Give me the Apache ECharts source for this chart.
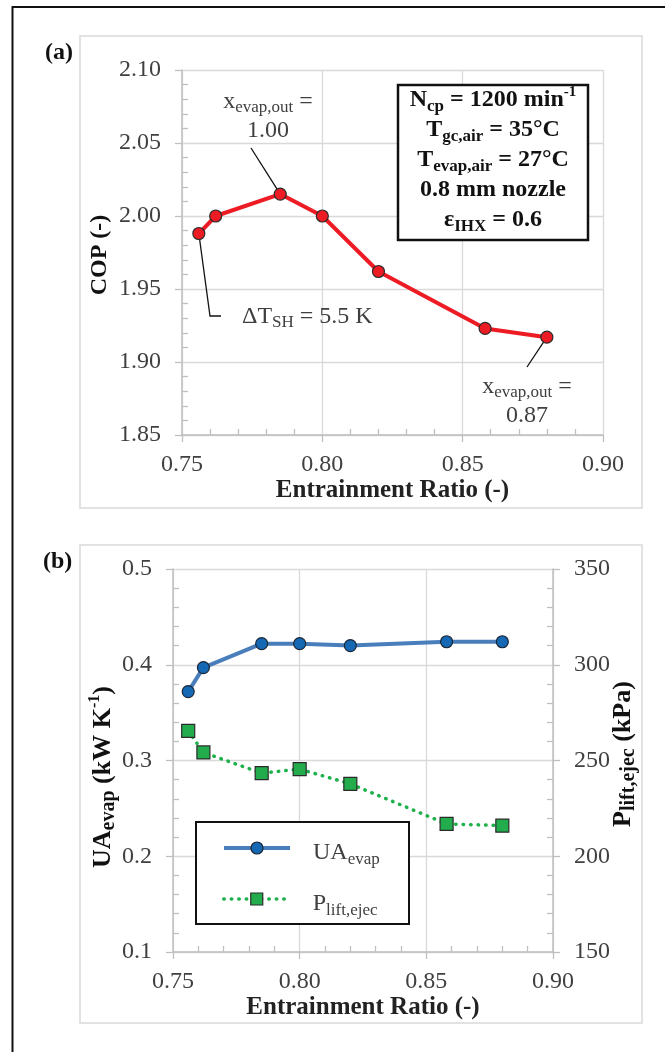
<!DOCTYPE html>
<html>
<head>
<meta charset="utf-8">
<script src="https://cdn.jsdelivr.net/npm/echarts@6/dist/echarts.min.js"></script>
<style>
  html, body { margin: 0; padding: 0; background: #fff; }
  #chart { width: 665px; height: 1052px; }
</style>
</head>
<body>
<div id="chart"></div>
<script>
// test points, shared by both panels
const entrainment = [0.756, 0.762, 0.785, 0.800, 0.820, 0.858, 0.880];
// (a) COP (-)
const cop = [1.988, 2.000, 2.015, 2.000, 1.962, 1.923, 1.917];
// (b) evaporator UA (kW/K) and ejector lift (kPa)
const uaEvap = [0.372, 0.397, 0.422, 0.422, 0.420, 0.424, 0.424];
const pLift = [265.5, 254.2, 243.4, 245.5, 237.8, 216.9, 216.0];

// axis ranges [min, max, step]
const ratioAxis = [0.75, 0.90, 0.05];
const copAxis = [1.85, 2.10, 0.05];
const uaAxis = [0.1, 0.5, 0.1];
const pAxis = [150, 350, 50];

const serif = 'Liberation Serif, Times New Roman, serif';
const axisGray = '#bfbfbf';
const gridGray = '#d9d9d9';
const txt = '#404040';

function mainAxis(grid, r, dec, pos, split) {
    return {
        type: 'value', gridIndex: grid, position: pos,
        min: r[0], max: r[1], interval: r[2],
        axisLine: { show: true, onZero: false, lineStyle: { color: axisGray, width: 1.5 } },
        axisTick: { show: true, inside: false, length: 7, lineStyle: { color: axisGray, width: 1.3 } },
        minorTick: { show: false },
        splitLine: { show: split, lineStyle: { color: gridGray, width: 1.3 } },
        axisLabel: {
            fontFamily: serif, fontSize: 24, color: txt, margin: pos === 'bottom' ? 18 : 21,
            formatter: v => v.toFixed(dec)
        }
    };
}
// second axis on the same side, only to draw the inside minor ticks
function minorAxis(grid, r, pos) {
    return {
        type: 'value', gridIndex: grid, position: pos,
        min: r[0], max: r[1], interval: r[2],
        axisLine: { show: false, onZero: false },
        axisTick: { show: true, inside: true, length: 6, lineStyle: { color: 'rgba(0,0,0,0)' } },
        minorTick: { show: true, splitNumber: 5, length: 6, lineStyle: { color: axisGray, width: 1.3 } },
        splitLine: { show: false },
        axisLabel: { show: false }
    };
}

const xName = {
    name: 'Entrainment Ratio (-)', nameLocation: 'middle', nameGap: 43,
    nameTextStyle: { fontFamily: serif, fontSize: 25, fontWeight: 'bold', color: '#222' }
};

const legendRich = {
    m: { fontFamily: serif, fontSize: 24, lineHeight: 40, verticalAlign: 'top', color: txt, padding: [13, 0, 0, 18] },
    s: { fontFamily: serif, fontSize: 17, lineHeight: 10, verticalAlign: 'bottom', color: txt }
};

const uaColor = '#4a7ebb';
const pColor = '#1db04b';

const option = {
    animation: false,
    grid: [
        { left: 182, top: 70, width: 421, height: 365 },
        { left: 173, top: 569, width: 380, height: 383 }
    ],
    xAxis: [
        Object.assign(mainAxis(0, ratioAxis, 2, 'bottom', true), xName),
        minorAxis(0, ratioAxis, 'bottom'),
        Object.assign(mainAxis(1, ratioAxis, 2, 'bottom', true), xName),
        minorAxis(1, ratioAxis, 'bottom')
    ],
    yAxis: [
        mainAxis(0, copAxis, 2, 'left', true),
        minorAxis(0, copAxis, 'left'),
        mainAxis(1, uaAxis, 1, 'left', true),
        mainAxis(1, pAxis, 0, 'right', false),
        minorAxis(1, uaAxis, 'left'),
        minorAxis(1, pAxis, 'right')
    ],
    legend: [
        {
            data: ['UAevap'], left: 222, top: 828, padding: 0, itemWidth: 66, itemHeight: 15,
            selectedMode: false, z: 6,
            lineStyle: { width: 4, color: uaColor },
            itemStyle: { borderWidth: 1.2, borderColor: '#1c2633' },
            formatter: () => '{m|UA}{s|evap}', textStyle: { rich: legendRich }
        },
        {
            data: ['Plift'], left: 222, top: 879, padding: 0, itemWidth: 66, itemHeight: 15,
            selectedMode: false, z: 6,
            lineStyle: { width: 3.5, color: pColor, type: [0.5, 7], cap: 'round' },
            itemStyle: { borderWidth: 1.2, borderColor: '#2b2b2b' },
            formatter: () => '{m|P}{s|lift,ejec}', textStyle: { rich: legendRich }
        }
    ],
    series: [
        {
            type: 'line', name: 'COP', xAxisIndex: 0, yAxisIndex: 0,
            data: entrainment.map((x, i) => [x, cop[i]]),
            symbol: 'circle', symbolSize: 12, z: 3,
            lineStyle: { color: '#ed1c24', width: 4 },
            itemStyle: { color: '#ed1c24', borderColor: '#2b2b2b', borderWidth: 1.2 },
            emphasis: { disabled: true }
        },
        {
            type: 'line', name: 'UAevap', xAxisIndex: 2, yAxisIndex: 2,
            data: entrainment.map((x, i) => [x, uaEvap[i]]),
            symbol: 'circle', symbolSize: 12, z: 3,
            lineStyle: { color: uaColor, width: 4 },
            itemStyle: { color: '#1468b4', borderColor: '#1c2633', borderWidth: 1.2 },
            emphasis: { disabled: true }
        },
        {
            type: 'line', name: 'Plift', xAxisIndex: 2, yAxisIndex: 3,
            data: entrainment.map((x, i) => [x, pLift[i]]),
            symbol: 'rect', symbolSize: 13, z: 3,
            lineStyle: { color: pColor, width: 3.5, type: [0.5, 7], cap: 'round' },
            itemStyle: { color: '#22ac4c', borderColor: '#2b2b2b', borderWidth: 1.2 },
            emphasis: { disabled: true }
        }
    ]
};

const chart = echarts.init(document.getElementById('chart'));
chart.setOption(option);

// pixel position of a data point, for the annotation leaders
const copPx = i => chart.convertToPixel({ seriesIndex: 0 }, [entrainment[i], cop[i]]);

const annRich = {
    m: { fontFamily: serif, fontSize: 24, lineHeight: 29, fill: txt },
    s: { fontFamily: serif, fontSize: 17, lineHeight: 12, verticalAlign: 'bottom', fill: txt }
};
const boldRich = {
    b: { fontFamily: serif, fontSize: 24, fontWeight: 'bold', lineHeight: 30, fill: '#111' },
    s: { fontFamily: serif, fontSize: 17, fontWeight: 'bold', lineHeight: 12, verticalAlign: 'bottom', fill: '#111' },
    u: { fontFamily: serif, fontSize: 15, fontWeight: 'bold', lineHeight: 20, verticalAlign: 'top', fill: '#111' }
};
// the (b) axis titles are set a little larger
const titleRich = {
    b: { fontFamily: serif, fontSize: 26, fontWeight: 'bold', lineHeight: 32, fill: '#111' },
    s: { fontFamily: serif, fontSize: 20, fontWeight: 'bold', lineHeight: 12, verticalAlign: 'bottom', fill: '#111' },
    u: { fontFamily: serif, fontSize: 16, fontWeight: 'bold', lineHeight: 20, verticalAlign: 'top', fill: '#111' }
};

const p0 = copPx(0), p2 = copPx(2), p6 = copPx(6);
const leader = { stroke: '#111', lineWidth: 1.3, fill: null };

chart.setOption({
    graphic: [
        // page frame and chart areas
        { type: 'polyline', shape: { points: [[12.5, 1052], [12.5, 7], [665, 7]] }, style: { stroke: '#111', lineWidth: 2, fill: null } },
        { type: 'rect', shape: { x: 80, y: 36, width: 562, height: 472 }, style: { stroke: gridGray, lineWidth: 1.5, fill: null } },
        { type: 'rect', shape: { x: 80, y: 545, width: 562, height: 478 }, style: { stroke: gridGray, lineWidth: 1.5, fill: null } },
        { type: 'text', x: 45, y: 53, style: { text: '(a)', fontFamily: serif, fontSize: 24, fontWeight: 'bold', fill: '#111', verticalAlign: 'middle' } },
        { type: 'text', x: 43, y: 562, style: { text: '(b)', fontFamily: serif, fontSize: 24, fontWeight: 'bold', fill: '#111', verticalAlign: 'middle' } },

        // y axis titles
        { type: 'text', x: 100, y: 255, rotation: Math.PI / 2,
          style: { text: '{b|COP (-)}', rich: boldRich, align: 'center', verticalAlign: 'middle' } },
        { type: 'text', x: 103, y: 777, rotation: Math.PI / 2,
          style: { text: '{b|UA}{s|evap}{b| (kW K}{u|-1}{b|)}', rich: titleRich, align: 'center', verticalAlign: 'middle' } },
        { type: 'text', x: 623, y: 754, rotation: Math.PI / 2,
          style: { text: '{b|P}{s|lift,ejec}{b| (kPa)}', rich: titleRich, align: 'center', verticalAlign: 'middle' } },

        // operating conditions box
        { type: 'rect', z: 1, shape: { x: 398, y: 85, width: 190, height: 155 }, style: { stroke: '#111', lineWidth: 2.5, fill: '#fff' } },
        { type: 'text', z: 2, x: 493, y: 85, style: {
            text: [
                '{b|N}{s|cp}{b| = 1200 min}{u|-1}',
                '{b|T}{s|gc,air}{b| = 35°C}',
                '{b|T}{s|evap,air}{b| = 27°C}',
                '{b|0.8 mm nozzle}',
                '{b|ε}{s|IHX}{b| = 0.6}'
            ].join('\n'),
            rich: boldRich, align: 'center', verticalAlign: 'top' } },

        // point annotations
        { type: 'polyline', z: 1, shape: { points: [[251, 148], p2] }, style: leader },
        { type: 'text', x: 268, y: 87, style: { text: '{m|x}{s|evap,out}{m| =}\n{m|1.00}', rich: annRich, align: 'center', verticalAlign: 'top' } },
        { type: 'polyline', z: 1, shape: { points: [p0, [210, 316], [221, 316]] }, style: leader },
        { type: 'text', x: 242, y: 317, style: { text: '{m|ΔT}{s|SH}{m| = 5.5 K}', rich: annRich, align: 'left', verticalAlign: 'middle' } },
        { type: 'polyline', z: 1, shape: { points: [p6, [527, 367]] }, style: leader },
        { type: 'text', x: 527, y: 372, style: { text: '{m|x}{s|evap,out}{m| =}\n{m|0.87}', rich: annRich, align: 'center', verticalAlign: 'top' } },

        // legend frame
        { type: 'rect', z: 1, shape: { x: 196, y: 822, width: 213, height: 102 }, style: { stroke: '#111', lineWidth: 2, fill: '#fff' } }
    ]
});
</script>
</body>
</html>
